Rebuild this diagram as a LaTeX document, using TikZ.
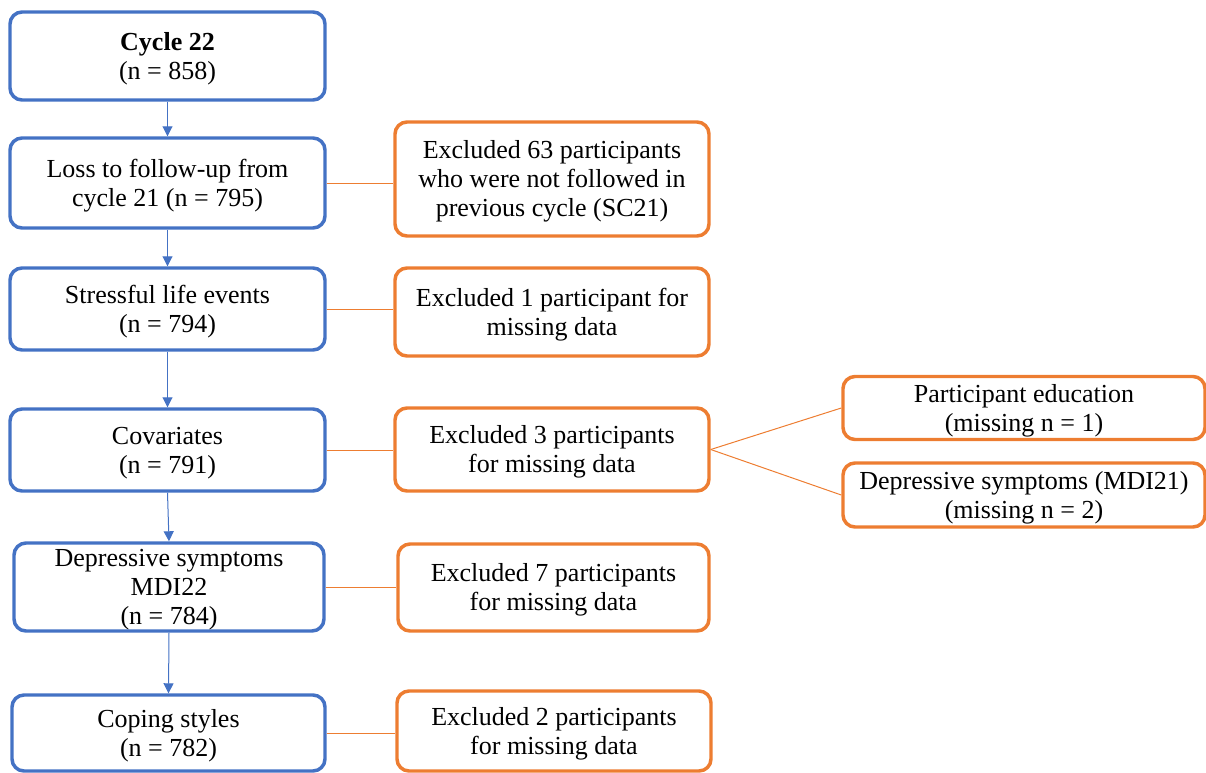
\documentclass[tikz,border=0pt]{standalone}
\usepackage{fontspec}
\setmainfont{Liberation Serif}
\usetikzlibrary{arrows.meta}
\definecolor{boxblue}{HTML}{4472C4}
\definecolor{boxorange}{HTML}{ED7D31}
\newcommand{\tstrut}{\rule{0pt}{17.4pt}}
\tikzset{
  flowbox/.style={rounded corners=9pt, line width=2.6pt, align=center, inner sep=0pt,
    font=\fontsize{19.5}{21.75}\selectfont},
  bluebox/.style={flowbox, draw=boxblue, minimum width=236.25pt},
  orangebox/.style={flowbox, draw=boxorange, minimum width=235.5pt},
  flowarrow/.style={draw=boxblue, line width=0.75pt, -{Triangle[width=7.5pt,length=7.5pt]}},
  exclline/.style={draw=boxorange, line width=0.75pt}
}
\begin{document}
\begin{tikzpicture}[x=0.75pt,y=-0.75pt]
\useasboundingbox (0,0) rectangle (1206,772);
% main stages
\node[bluebox, minimum height=66pt] (cycle) at (167.5,56) {\tstrut\textbf{Cycle 22}\\(n = 858)};
\node[bluebox, minimum height=67.5pt] (loss) at (167.5,183) {\tstrut Loss to follow-up from\\cycle 21 (n = 795)};
\node[bluebox, minimum height=61.5pt] (stress) at (167.5,309) {\tstrut Stressful life events\\(n = 794)};
\node[bluebox, minimum height=61.5pt] (covar) at (167.5,450) {\tstrut Covariates\\(n = 791)};
\node[bluebox, minimum height=66pt, minimum width=232.5pt] (mdi) at (169,587) {\tstrut Depressive symptoms\\MDI22\\(n = 784)};
\node[bluebox, minimum height=57pt, minimum width=234.75pt] (coping) at (168.5,733) {\tstrut Coping styles\\(n = 782)};
% exclusions
\node[orangebox, minimum height=85.5pt] (exclloss) at (552,179) {\tstrut Excluded 63 participants\\who were not followed in\\previous cycle (SC21)};
\node[orangebox, minimum height=66pt] (exclstress) at (552,312) {\tstrut Excluded 1 participant for\\missing data};
\node[orangebox, minimum height=62.25pt] (exclcovar) at (552,449.5) {\tstrut Excluded 3 participants\\for missing data};
\node[orangebox, minimum height=65.25pt, minimum width=233.25pt] (exclmdi) at (553.5,587.5) {\tstrut Excluded 7 participants\\for missing data};
\node[orangebox, minimum height=60pt] (exclcoping) at (554,731) {\tstrut Excluded 2 participants\\for missing data};
% covariate details
\node[orangebox, minimum height=47.25pt, minimum width=271.5pt] (educ) at (1024,408) {\tstrut Participant education\\(missing n = 1)};
\node[orangebox, minimum height=48pt, minimum width=271.5pt] (mdimiss) at (1024,495) {\tstrut Depressive symptoms (MDI21)\\(missing n = 2)};
% arrows
\draw[flowarrow] (cycle) -- (loss);
\draw[flowarrow] (loss) -- (stress);
\draw[flowarrow] (stress) -- (covar);
\draw[flowarrow] (covar.south) -- (mdi.north);
\draw[flowarrow] (mdi.south) -- (coping.north);
% exclusion lines
\draw[exclline] (loss.east) -- (loss.east -| exclloss.west);
\draw[exclline] (stress.east) -- (stress.east -| exclstress.west);
\draw[exclline] (covar.east) -- (covar.east -| exclcovar.west);
\draw[exclline] (mdi.east) -- (mdi.east -| exclmdi.west);
\draw[exclline] (coping.east) -- (coping.east -| exclcoping.west);
\draw[exclline] (exclcovar.east) -- (educ.west);
\draw[exclline] (exclcovar.east) -- (mdimiss.west);
\end{tikzpicture}
\end{document}
